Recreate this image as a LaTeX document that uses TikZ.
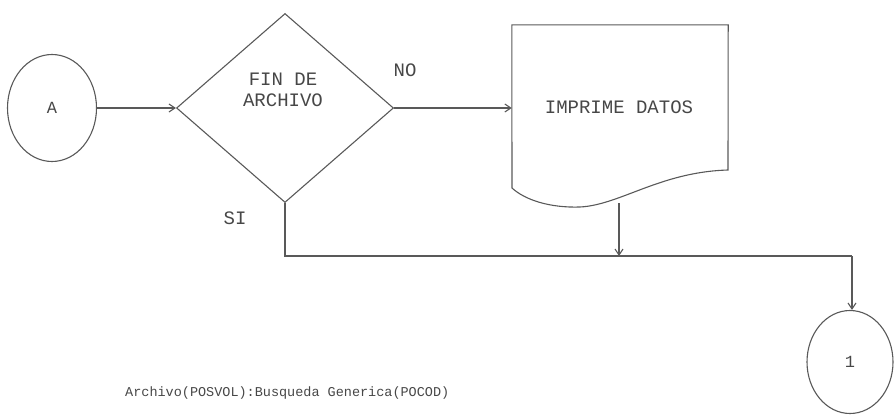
\documentclass[tikz,border=0pt]{standalone}
\usepackage{fontspec}
\setmonofont{Liberation Mono}
\usetikzlibrary{shapes.geometric,arrows.meta}
\begin{document}
\begin{tikzpicture}[x=1pt,y=-1pt,
  ln/.style={draw=black!65, line width=1.1pt},
  arr/.style={ln, -{Straight Barb[length=6pt,width=8pt]}},
  lbl/.style={text=black!72, font=\ttfamily\fontsize{19}{21}\selectfont, inner sep=0pt, align=center},
  conn/.style={ln, ellipse, inner sep=0pt},
]
\useasboundingbox (0,0) rectangle (894,415);
% connectors A
\node[conn, minimum width=89pt, minimum height=107pt] (A) at (52,108) {\textcolor{black!72}{\ttfamily\fontsize{17}{17}\selectfont A}};
% decision
\node[ln, diamond, minimum width=217pt, minimum height=189pt, inner sep=0pt] (dec) at (285,108) {};
\node[lbl] (dect) at (283,90) {FIN DE\\ARCHIVO};
% document
\node[inner sep=0pt, minimum width=216pt, minimum height=183pt] (doc) at (620,116.5) {};
\draw[ln] (doc.north west) -- (512,188) .. controls (525,200) and (550,208) .. (580,207)
  .. controls (620,205) and (660,172) .. (728,170) -- (doc.north east) -- cycle;
\node[lbl] (doct) at (619,107) {IMPRIME DATOS};
\coordinate (docb) at (619,203);
% end connector
\node[conn, minimum width=86pt, minimum height=103pt] (one) at (850,362) {\textcolor{black!72}{\ttfamily\fontsize{17}{17}\selectfont 1}};
% labels
\node[lbl] (no) at (405,70) {NO};
\node[lbl] (si) at (235,218) {SI};
\node[text=black!72, font=\ttfamily\fontsize{13.5}{14}\selectfont, anchor=west, inner sep=0pt] (cap) at (125,393) {Archivo(POSVOL):Busqueda Generica(POCOD)};
% flows
\coordinate (j1) at (285,256);
\coordinate (j2) at (619,256);
\coordinate (j3) at (852,256);
\draw[arr] (A.east) -- (dec.west);
\draw[arr] (dec.east) -- (doc.west |- dec.east);
\draw[arr] (docb) -- (j2);
\draw[ln] (dec.south) -- (j1) -- (j3);
\draw[arr] (j3) -- (j3 |- one.north);
\end{tikzpicture}
\end{document}
